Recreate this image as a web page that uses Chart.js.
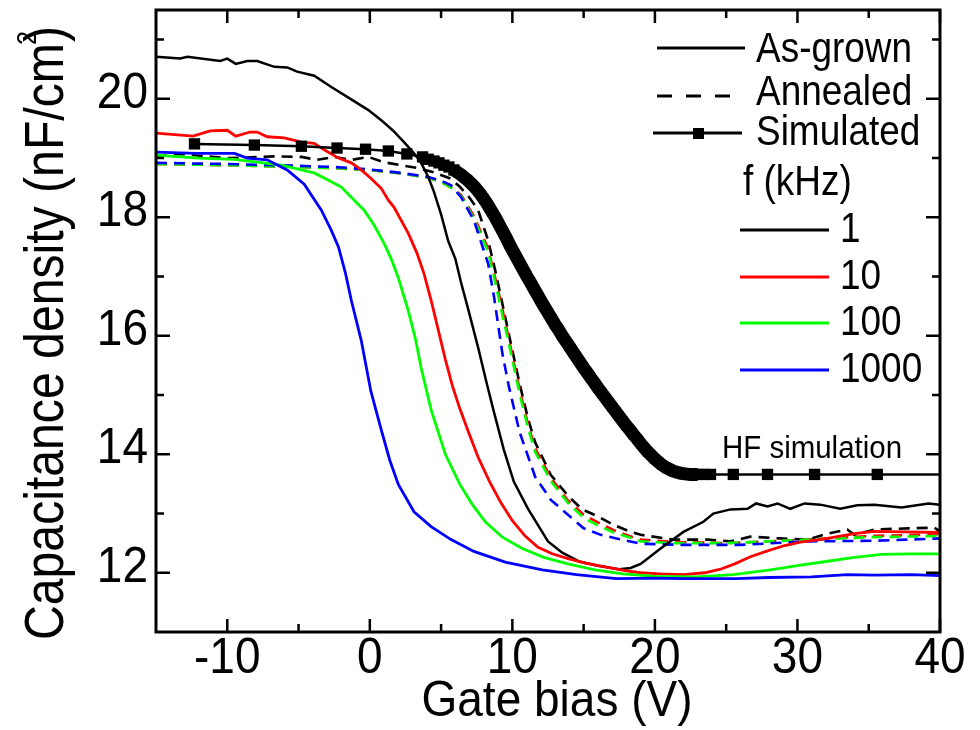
<!DOCTYPE html>
<html>
<head>
<meta charset="utf-8">
<title>Capacitance density vs gate bias</title>
<script src="https://cdn.jsdelivr.net/npm/chart.js@4.4.1/dist/chart.umd.min.js"></script>
<style>
  html, body { margin: 0; padding: 0; background: #fff; }
  #wrap { width: 980px; height: 730px; }
</style>
</head>
<body>
<div id="wrap"><canvas id="cv"></canvas></div>
<script>
// As-grown, measured at 1 / 10 / 100 / 1000 kHz (gate bias V, capacitance nF/cm2)
const asGrown1kX = [-15, -13.3, -12.8, -10.5, -10, -9.4, -8.6, -7.9, -6.7, -5.8, -5.1, -3.9, -2.7, -1.5, -0.1, 0.8, 1.6, 2.4, 3.1, 3.6, 4.1, 4.5, 5.0, 5.5, 6.0, 6.4, 6.9, 7.6, 8.2, 8.7, 9.4, 10.1, 11.1, 12.5, 13.5, 14.7, 16.0, 17.5, 18.3, 19.0, 20.4, 22.0, 23.4, 24.1, 25.3, 26.5, 27.1, 27.9, 28.6, 29.5, 30.5, 31.6, 33.0, 34.2, 35.4, 37.3, 39.2, 40];
const asGrown1kC = [20.71, 20.68, 20.71, 20.64, 20.68, 20.59, 20.64, 20.64, 20.54, 20.53, 20.46, 20.39, 20.2, 20.02, 19.81, 19.64, 19.47, 19.27, 19.08, 18.92, 18.68, 18.43, 18.05, 17.6, 17.3, 16.9, 16.45, 15.8, 15.2, 14.72, 14.08, 13.54, 13.08, 12.53, 12.34, 12.19, 12.12, 12.06, 12.08, 12.15, 12.41, 12.69, 12.86, 13.0, 13.07, 13.08, 13.17, 13.12, 13.17, 13.08, 13.17, 13.15, 13.08, 13.14, 13.15, 13.1, 13.17, 13.15];

const asGrown10kX = [-15, -12.4, -11.2, -10, -9.4, -8.4, -7.9, -7.2, -6, -4.8, -3.9, -3.2, -2.2, -1.3, -0.6, 0.07, 0.8, 1.3, 1.7, 2.7, 3.3, 3.8, 4.3, 4.8, 5.3, 5.8, 6.3, 6.9, 7.6, 8.4, 9.2, 10.0, 10.9, 11.8, 12.8, 13.9, 15.2, 16.5, 18.0, 19.0, 20.35, 22.0, 23.5, 24.6, 25.6, 26.7, 27.9, 29.1, 30.3, 31.6, 32.8, 34.0, 35.4, 37.5, 40];
const asGrown10kC = [19.42, 19.37, 19.46, 19.47, 19.37, 19.44, 19.44, 19.36, 19.34, 19.27, 19.25, 19.14, 19.0, 18.92, 18.8, 18.66, 18.49, 18.29, 18.17, 17.73, 17.4, 17.05, 16.6, 16.1, 15.6, 15.15, 14.78, 14.39, 13.95, 13.54, 13.18, 12.88, 12.62, 12.43, 12.32, 12.24, 12.16, 12.1, 12.03, 12.0, 11.98, 11.97, 12.0, 12.06, 12.15, 12.27, 12.37, 12.46, 12.52, 12.56, 12.61, 12.66, 12.7, 12.69, 12.68];

const asGrown100kX = [-15, -12, -9.5, -6.2, -3.9, -2.7, -2.0, -1.3, -0.4, 0.3, 1.0, 1.5, 2.0, 2.7, 3.2, 3.6, 4.3, 5.3, 6.3, 7.2, 8.1, 9.3, 10.7, 12.2, 13.9, 15.8, 17.75, 20.0, 22.9, 25.5, 28.1, 30.0, 32.0, 34.0, 35.9, 38.0, 40];
const asGrown100kC = [19.05, 19.0, 18.98, 18.88, 18.75, 18.6, 18.51, 18.34, 18.12, 17.87, 17.56, 17.3, 16.98, 16.42, 15.95, 15.46, 14.75, 14.0, 13.5, 13.15, 12.86, 12.6, 12.41, 12.26, 12.15, 12.05, 11.98, 11.94, 11.93, 11.97, 12.05, 12.12, 12.19, 12.26, 12.31, 12.32, 12.32];

const asGrown1000kX = [-15, -12.2, -9.5, -8.6, -7.2, -5.8, -4.6, -3.4, -2.7, -2.2, -1.7, -1.3, -0.6, 0.07, 0.77, 1.4, 2.0, 3.1, 4.3, 5.7, 7.3, 9.5, 12.1, 14.5, 17.3, 20.0, 22.0, 25.7, 28.0, 31.0, 33.5, 35.4, 38.0, 40];
const asGrown1000kC = [19.1, 19.08, 19.08, 19.0, 18.97, 18.8, 18.56, 18.12, 17.78, 17.5, 17.05, 16.6, 15.92, 15.07, 14.44, 13.9, 13.49, 13.03, 12.78, 12.56, 12.36, 12.18, 12.05, 11.97, 11.9, 11.91, 11.9, 11.9, 11.92, 11.93, 11.97, 11.96, 11.97, 11.95];

// Annealed samples, same four frequencies
const annealed1kX = [-15, -13.3, -10, -6.5, -4.8, -3.7, -2.5, -1.3, -0.1, 1.0, 2.2, 3.4, 4.5, 5.6, 6.3, 7.0, 7.6, 8.3, 8.8, 9.3, 9.75, 10.5, 11.1, 11.6, 12.7, 13.9, 14.9, 16.0, 17.1, 18.2, 19.0, 21.3, 23.7, 25.3, 26.7, 28.8, 30.7, 32.1, 33.5, 34.0, 35.4, 37.8, 39.6, 40];
const annealed1kC = [19.02, 19.07, 19.0, 19.03, 19.02, 18.97, 19.02, 18.97, 19.02, 18.93, 18.88, 18.83, 18.76, 18.66, 18.52, 18.33, 18.12, 17.61, 17.1, 16.54, 16.03, 15.2, 14.6, 14.2, 13.65, 13.3, 13.07, 12.95, 12.81, 12.7, 12.64, 12.56, 12.56, 12.53, 12.61, 12.58, 12.56, 12.66, 12.73, 12.64, 12.73, 12.75, 12.76, 12.7];

const annealedMidX = [-15, -10, -5, -2.5, -0.1, 2.2, 4.1, 5.0, 5.7, 6.4, 7.3, 8.3, 8.8, 9.3, 9.75, 10.5, 11.1, 11.6, 12.7, 13.9, 15.0, 16.0, 17.1, 18.2, 19.0, 21.3, 25.0, 30.0, 35.0, 40];
const annealed10kC = [18.9, 18.88, 18.85, 18.83, 18.8, 18.74, 18.67, 18.6, 18.5, 18.38, 18.02, 17.47, 16.97, 16.45, 15.95, 15.1, 14.5, 14.1, 13.6, 13.22, 12.98, 12.85, 12.72, 12.62, 12.56, 12.52, 12.5, 12.55, 12.62, 12.65];
const annealed100kC = [18.9, 18.88, 18.85, 18.83, 18.8, 18.74, 18.67, 18.6, 18.5, 18.36, 17.98, 17.42, 16.9, 16.35, 15.88, 15.03, 14.44, 14.04, 13.55, 13.18, 12.93, 12.8, 12.68, 12.6, 12.53, 12.5, 12.5, 12.55, 12.6, 12.62];

const annealed1000kX = [-15, -10, -5, -2.5, -0.1, 2.2, 4.1, 5.0, 5.7, 6.4, 7.3, 8.3, 8.7, 9.3, 9.75, 10.5, 11.6, 12.7, 13.9, 15.0, 16.2, 17.3, 19.0, 22.0, 26.0, 30.7, 35.4, 40];
const annealed1000kC = [18.92, 18.9, 18.87, 18.85, 18.81, 18.75, 18.68, 18.62, 18.54, 18.34, 17.95, 17.22, 16.68, 15.7, 15.15, 14.38, 13.62, 13.23, 12.98, 12.75, 12.64, 12.58, 12.49, 12.47, 12.47, 12.53, 12.54, 12.58];

// High-frequency simulation (dense steps through depletion)
const simX = [-12.3, -8.1, -4.8, -2.3, -0.3, 1.3, 2.6, 3.7, 4.1, 4.5, 4.85, 5.2, 5.55, 5.9, 6.15, 6.4, 6.65, 6.9, 7.15, 7.4, 7.6, 7.8, 8.0, 8.2, 8.4, 8.6, 8.8, 9.0, 9.2, 9.4, 9.6, 9.8, 10.0, 10.25, 10.5, 10.75, 11.0, 11.25, 11.5, 11.75, 12.0, 12.25, 12.5, 12.75, 13.0, 13.25, 13.5, 13.75, 14.0, 14.25, 14.5, 14.75, 15.0, 15.25, 15.5, 15.75, 16.0, 16.25, 16.5, 16.75, 17.0, 17.25, 17.5, 17.75, 18.0, 18.25, 18.5, 18.75, 19.0, 19.25, 19.5, 19.75, 20.0, 20.25, 20.5, 20.75, 21.0, 21.25, 21.5, 21.8, 22.1, 22.4, 22.7, 23.0, 23.4, 23.9, 25.5, 27.9, 31.2, 35.6, 41];
const simC = [19.24, 19.22, 19.2, 19.17, 19.15, 19.12, 19.07, 19.02, 18.98, 18.95, 18.92, 18.88, 18.85, 18.8, 18.76, 18.72, 18.67, 18.62, 18.56, 18.5, 18.44, 18.38, 18.31, 18.24, 18.16, 18.08, 18.0, 17.91, 17.82, 17.73, 17.64, 17.54, 17.45, 17.34, 17.23, 17.12, 17.01, 16.91, 16.8, 16.7, 16.59, 16.49, 16.39, 16.29, 16.19, 16.1, 16.0, 15.91, 15.82, 15.73, 15.64, 15.55, 15.46, 15.38, 15.29, 15.21, 15.12, 15.04, 14.96, 14.88, 14.8, 14.72, 14.64, 14.56, 14.48, 14.41, 14.33, 14.26, 14.18, 14.11, 14.04, 13.98, 13.92, 13.87, 13.82, 13.78, 13.75, 13.72, 13.7, 13.68, 13.67, 13.66, 13.66, 13.66, 13.66, 13.66, 13.66, 13.66, 13.66, 13.66, 13.66];

const xMajorTicks = [-10, 0, 10, 20, 30, 40];
const xMinorTicks = [-5, 5, 15, 25, 35];
const yMajorTicks = [12, 14, 16, 18, 20];
const yMinorTicks = [13, 15, 17, 19, 21];

const legendSamples = ['As-grown', 'Annealed', 'Simulated'];
const freqLabels = ['1', '10', '100', '1000'];
const freqColors = ['#000000', '#ff0000', '#00ff00', '#0000ff'];

const FONT = '"Liberation Sans", Arial, sans-serif';

function pts(xs, ys) {
  return xs.map((x, i) => ({ x: x, y: ys[i] }));
}

// condensed text: squeeze horizontally around the anchor point
function drawText(ctx, str, x, y, size, align, sx) {
  ctx.save();
  ctx.font = size + 'px ' + FONT;
  ctx.translate(x, y);
  ctx.scale(sx, 1);
  ctx.textAlign = align;
  ctx.textBaseline = 'alphabetic';
  ctx.fillStyle = '#000';
  ctx.fillText(str, 0, 0);
  const w = ctx.measureText(str).width * sx;
  ctx.restore();
  return w;
}

function solid(data, color, w) {
  return { data: data, borderColor: color, borderWidth: w, pointRadius: 0, fill: false };
}
function dashed(data, color) {
  return { data: data, borderColor: color, borderWidth: 2.6, borderDash: [11, 7], pointRadius: 0, fill: false };
}

const framePlugin = {
  id: 'frame',
  afterDatasetsDraw(chart) {
    const ctx = chart.ctx;
    const a = chart.chartArea;
    const xs = chart.scales.x, ys = chart.scales.y;

    ctx.save();
    ctx.strokeStyle = '#000';
    ctx.lineWidth = 3;
    ctx.strokeRect(a.left, a.top, a.right - a.left, a.bottom - a.top);

    // ticks point inwards on all four sides
    ctx.lineWidth = 2.5;
    ctx.beginPath();
    const xTick = (v, len) => {
      const px = xs.getPixelForValue(v);
      ctx.moveTo(px, a.bottom); ctx.lineTo(px, a.bottom - len);
      ctx.moveTo(px, a.top); ctx.lineTo(px, a.top + len);
    };
    const yTick = (v, len) => {
      const py = ys.getPixelForValue(v);
      ctx.moveTo(a.left, py); ctx.lineTo(a.left + len, py);
      ctx.moveTo(a.right, py); ctx.lineTo(a.right - len, py);
    };
    xMajorTicks.forEach(v => xTick(v, 13));
    xMinorTicks.forEach(v => xTick(v, 8));
    yMajorTicks.forEach(v => yTick(v, 14));
    yMinorTicks.forEach(v => yTick(v, 8));
    ctx.stroke();

    // tick labels
    xMajorTicks.forEach(v => {
      drawText(ctx, String(v), xs.getPixelForValue(v), a.bottom + 41, 50, 'center', 0.92);
    });
    yMajorTicks.forEach(v => {
      drawText(ctx, String(v), a.left - 8, ys.getPixelForValue(v) + 9, 50, 'right', 0.92);
    });

    // axis titles
    drawText(ctx, 'Gate bias (V)', 557, 716, 50, 'center', 0.92);
    ctx.save();
    ctx.translate(63, 640);
    ctx.rotate(-Math.PI / 2);
    const w = drawText(ctx, 'Capacitance density (nF/cm', 0, 0, 56, 'left', 0.86);
    drawText(ctx, '2', w - 2, -27, 28, 'left', 0.9);
    drawText(ctx, ')', w + 1, 0, 56, 'left', 0.86);
    ctx.restore();

    drawText(ctx, 'HF simulation', 722, 458, 31, 'left', 0.95);

    // legend: sample line styles
    ctx.strokeStyle = '#000';
    ctx.lineWidth = 3;
    ctx.beginPath();
    ctx.moveTo(657, 48); ctx.lineTo(745, 48);
    ctx.stroke();
    ctx.setLineDash([15, 14]);
    ctx.beginPath();
    ctx.moveTo(657, 96); ctx.lineTo(735, 96);
    ctx.stroke();
    ctx.setLineDash([]);
    ctx.beginPath();
    ctx.moveTo(653, 133); ctx.lineTo(742, 133);
    ctx.stroke();
    ctx.fillStyle = '#000';
    ctx.fillRect(693, 128, 11, 11);

    const sampleBase = [62, 105, 145];
    legendSamples.forEach((s, i) => drawText(ctx, s, 756, sampleBase[i], 42, 'left', 0.88));

    drawText(ctx, 'f (kHz)', 743, 195, 42, 'left', 0.88);

    const freqY = [230, 277, 323, 370];
    freqLabels.forEach((f, i) => {
      ctx.strokeStyle = freqColors[i];
      ctx.lineWidth = 3;
      ctx.beginPath();
      ctx.moveTo(740, freqY[i]); ctx.lineTo(829, freqY[i]);
      ctx.stroke();
      drawText(ctx, f, 840, freqY[i] + 12, 42, 'left', 0.88);
    });
    ctx.restore();
  }
};

// closely spaced simulation steps merge into one solid band
const DENSE = 0.32;
function denseAt(i) {
  const prev = i > 0 ? simX[i] - simX[i - 1] : Infinity;
  const next = i < simX.length - 1 ? simX[i + 1] - simX[i] : Infinity;
  return prev < DENSE && next < DENSE;
}

const simSet = {
  data: pts(simX, simC),
  borderColor: '#000',
  borderWidth: 2.5,
  borderCapStyle: 'butt',
  borderJoinStyle: 'round',
  pointStyle: 'rect',
  pointRadius: c => (denseAt(c.dataIndex) ? 6.6 : 8),
  pointBorderWidth: 0,
  pointBackgroundColor: '#000',
  fill: false,
  segment: {
    borderWidth: c => (c.p1.parsed.x - c.p0.parsed.x < DENSE ? 13 : 2.5)
  }
};

new Chart(document.getElementById('cv'), {
  type: 'line',
  data: {
    datasets: [
      simSet,
      solid(pts(asGrown1000kX, asGrown1000kC), '#0000ff', 2.8),
      solid(pts(asGrown100kX, asGrown100kC), '#00ff00', 2.8),
      solid(pts(asGrown10kX, asGrown10kC), '#ff0000', 2.8),
      solid(pts(asGrown1kX, asGrown1kC), '#000000', 2.5),
      dashed(pts(annealed1000kX, annealed1000kC), '#0000ff'),
      dashed(pts(annealedMidX, annealed100kC), '#00ff00'),
      dashed(pts(annealedMidX, annealed10kC), '#ff0000'),
      dashed(pts(annealed1kX, annealed1kC), '#000000')
    ]
  },
  options: {
    responsive: true,
    maintainAspectRatio: false,
    animation: false,
    events: [],
    layout: { padding: { left: 156, right: 40, top: 10, bottom: 98 } },
    plugins: { legend: { display: false }, tooltip: { enabled: false } },
    elements: { line: { tension: 0 } },
    scales: {
      x: { type: 'linear', min: -15, max: 40, display: false },
      y: { type: 'linear', min: 11, max: 21.5, display: false }
    }
  },
  plugins: [framePlugin]
});
</script>
</body>
</html>
